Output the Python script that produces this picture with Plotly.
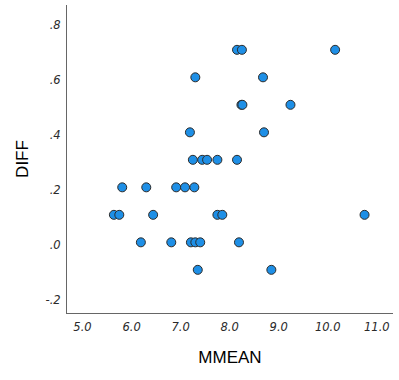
import plotly.graph_objects as go

# MMEAN (x) and DIFF (y) values
mmean = [8.15, 8.25, 10.15,
         7.30, 8.68,
         8.24, 8.26, 9.24,
         7.19, 8.70,
         7.25, 7.44, 7.54, 7.75, 8.15,
         5.81, 6.30, 6.91, 7.09, 7.28,
         5.64, 5.75, 6.44, 7.75, 7.85, 10.75,
         6.19, 6.81, 7.21, 7.30, 7.40, 8.19,
         7.35, 8.85]
diff = [0.71, 0.71, 0.71,
        0.61, 0.61,
        0.51, 0.51, 0.51,
        0.41, 0.41,
        0.31, 0.31, 0.31, 0.31, 0.31,
        0.21, 0.21, 0.21, 0.21, 0.21,
        0.11, 0.11, 0.11, 0.11, 0.11, 0.11,
        0.01, 0.01, 0.01, 0.01, 0.01, 0.01,
        -0.09, -0.09]

x_ticks = [5, 6, 7, 8, 9, 10, 11]
x_labels = ["5.0", "6.0", "7.0", "8.0", "9.0", "10.0", "11.0"]
y_ticks = [-0.2, 0.0, 0.2, 0.4, 0.6, 0.8]
y_labels = ["-.2", ".0", ".2", ".4", ".6", ".8"]

fig = go.Figure(go.Scatter(
    x=mmean, y=diff, mode="markers",
    marker=dict(size=9, color="#1e8fe6", line=dict(color="#2b2b2b", width=1)),
))

tickfont = dict(family="DejaVu Sans", size=11.5, color="#2a2a2a", style="italic")
axis_common = dict(showgrid=False, zeroline=False, showline=True, linecolor="#666666",
                   linewidth=1, ticks="outside", ticklen=3, tickcolor="rgba(0,0,0,0)",
                   tickfont=tickfont, automargin=False)

fig.update_layout(
    width=399, height=380,
    margin=dict(l=67, r=6, t=5, b=67),
    plot_bgcolor="white", paper_bgcolor="white",
    showlegend=False,
    xaxis=dict(range=[4.684, 11.33], tickvals=x_ticks, ticktext=x_labels,
               title=dict(text="MMEAN", font=dict(family="Liberation Sans", size=17, color="black"), standoff=18),
               **axis_common),
    yaxis=dict(range=[-0.247, 0.873], tickvals=y_ticks, ticktext=y_labels,
               title=dict(text="DIFF", font=dict(family="Liberation Sans", size=17, color="black"), standoff=12),
               **axis_common),
)

fig.write_html("out.html", config={"displayModeBar": False},
               post_script="document.body.style.margin='0';")
